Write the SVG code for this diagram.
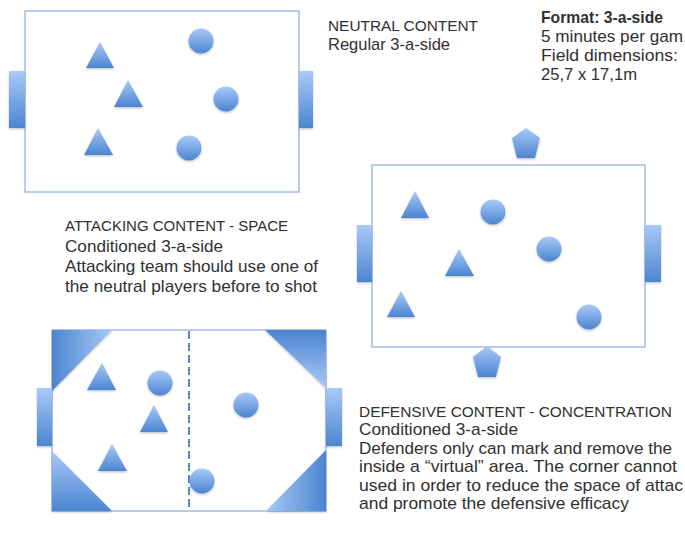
<svg xmlns="http://www.w3.org/2000/svg" width="685" height="538" viewBox="0 0 685 538">
<style>
.field{fill:#ffffff;stroke:#a3bde3;stroke-width:1.5}
.p{fill:url(#gv);filter:url(#sh)}
.t{font-family:"Liberation Sans",Arial,sans-serif;font-size:17px;fill:#303030}
.c{font-size:15.4px}
.b{font-weight:bold}
</style>
<defs>
<linearGradient id="gv" x1="0" y1="0" x2="0" y2="1"><stop offset="0" stop-color="#a9c9f7"/><stop offset="1" stop-color="#4b85d1"/></linearGradient>
<linearGradient id="gl" x1="0" y1="0" x2="1" y2="0"><stop offset="0" stop-color="#4b85d1"/><stop offset="1" stop-color="#a9c9f7"/></linearGradient>
<linearGradient id="gr" x1="0" y1="0" x2="1" y2="0"><stop offset="0" stop-color="#a9c9f7"/><stop offset="1" stop-color="#4b85d1"/></linearGradient>
<linearGradient id="gd" x1="0" y1="0" x2="0" y2="1"><stop offset="0" stop-color="#4b85d1"/><stop offset="1" stop-color="#a9c9f7"/></linearGradient>
<filter id="sh" x="-30%" y="-30%" width="160%" height="160%"><feDropShadow dx="0" dy="1.2" stdDeviation="1" flood-color="#000" flood-opacity="0.25"/></filter>
</defs>

<g id="field-neutral">
<rect class="field" x="25" y="11" width="274" height="181"/>
<rect class="p" x="9" y="71" width="16" height="57"/>
<rect class="p" x="299" y="71" width="14" height="57"/>
<polygon class="p" points="100,42 114,68 86,68"/>
<polygon class="p" points="128,80 143,107 114,107"/>
<polygon class="p" points="98,128 113,155 84,155"/>
<circle class="p" cx="201" cy="41" r="12.5"/>
<circle class="p" cx="226" cy="99" r="12.5"/>
<circle class="p" cx="189" cy="148" r="12.5"/>
</g>

<g id="field-attacking">
<rect class="field" x="372" y="165" width="273" height="182"/>
<rect class="p" x="357" y="225" width="15" height="57"/>
<rect class="p" x="645" y="225" width="16" height="57"/>
<polygon class="p" points="526,128 540,138 535,158 517,158 512,138"/>
<polygon class="p" points="487,346 501,357 496,377 478,377 473,357"/>
<polygon class="p" points="415,191 429,218 401,218"/>
<polygon class="p" points="459,249 474,276 445,276"/>
<polygon class="p" points="401,291 415,317 387,317"/>
<circle class="p" cx="493" cy="212" r="12.5"/>
<circle class="p" cx="549" cy="249" r="12.5"/>
<circle class="p" cx="589" cy="317" r="12.5"/>
</g>

<g id="field-defensive">
<rect class="field" x="52" y="330" width="274" height="181"/>
<polygon points="52,330 112,330 52,391" fill="url(#gl)" filter="url(#sh)"/>
<polygon points="326,330 265,330 326,388" fill="url(#gd)" filter="url(#sh)"/>
<polygon points="52,511 52,451 112,511" fill="url(#gv)" filter="url(#sh)"/>
<polygon points="326,511 326,450 266,511" fill="url(#gr)" filter="url(#sh)"/>
<rect class="p" x="37" y="388" width="15" height="58"/>
<rect class="p" x="326" y="388" width="16" height="58"/>
<line x1="189" y1="331" x2="189" y2="511" stroke="#4f88d2" stroke-width="2" stroke-dasharray="8,4"/>
<polygon class="p" points="102,363 116,390 87,390"/>
<polygon class="p" points="154,405 168,432 140,432"/>
<polygon class="p" points="112,444 127,471 98,471"/>
<circle class="p" cx="160" cy="383" r="12.5"/>
<circle class="p" cx="246" cy="405" r="12.5"/>
<circle class="p" cx="202" cy="481" r="12.5"/>
</g>

<g id="connectors"></g>

<g id="text-neutral">
<text class="t c" x="328" y="31" textLength="150" lengthAdjust="spacingAndGlyphs">NEUTRAL CONTENT</text>
<text class="t" x="328" y="50" textLength="122" lengthAdjust="spacingAndGlyphs">Regular 3-a-side</text>
</g>
<g id="text-format">
<text class="t b" x="541" y="23" textLength="122" lengthAdjust="spacingAndGlyphs">Format: 3-a-side</text>
<text class="t" x="541" y="42" textLength="142" lengthAdjust="spacingAndGlyphs">5 minutes per gam</text>
<text class="t" x="541" y="61" textLength="137" lengthAdjust="spacingAndGlyphs">Field dimensions:</text>
<text class="t" x="541" y="80" textLength="96" lengthAdjust="spacingAndGlyphs">25,7 x 17,1m</text>
</g>
<g id="text-attacking">
<text class="t c" x="65" y="231" textLength="223" lengthAdjust="spacingAndGlyphs">ATTACKING CONTENT - SPACE</text>
<text class="t" x="65" y="251.5" textLength="158" lengthAdjust="spacingAndGlyphs">Conditioned 3-a-side</text>
<text class="t" x="65" y="272" textLength="253" lengthAdjust="spacingAndGlyphs">Attacking team should use one of</text>
<text class="t" x="65" y="292" textLength="252" lengthAdjust="spacingAndGlyphs">the neutral players before to shot</text>
</g>
<g id="text-defensive">
<text class="t c" x="359" y="417" textLength="313" lengthAdjust="spacingAndGlyphs">DEFENSIVE CONTENT - CONCENTRATION</text>
<text class="t" x="359" y="434.5" textLength="159" lengthAdjust="spacingAndGlyphs">Conditioned 3-a-side</text>
<text class="t" x="359" y="453.5" textLength="313" lengthAdjust="spacingAndGlyphs">Defenders only can mark and remove the</text>
<text class="t" x="359" y="472" textLength="318" lengthAdjust="spacingAndGlyphs">inside a “virtual” area. The corner cannot</text>
<text class="t" x="359" y="490.5" textLength="324" lengthAdjust="spacingAndGlyphs">used in order to reduce the space of attac</text>
<text class="t" x="359" y="509" textLength="270" lengthAdjust="spacingAndGlyphs">and promote the defensive efficacy</text>
</g>
</svg>
